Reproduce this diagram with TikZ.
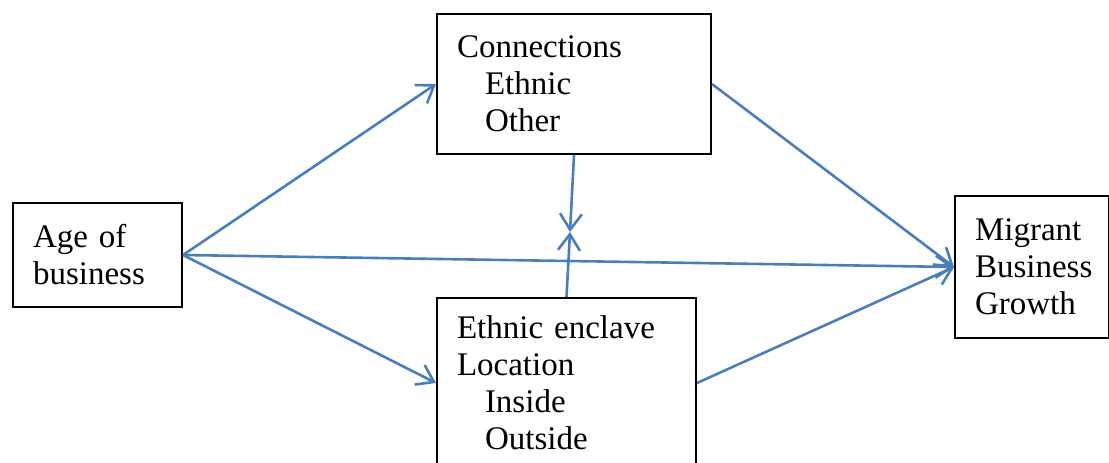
\documentclass[tikz,border=0pt]{standalone}
\usepackage{fontspec}
\setmainfont{Liberation Serif}
\usetikzlibrary{arrows.meta,positioning}
\definecolor{azulFlecha}{HTML}{4A7EBB}
\definecolor{negroCaja}{HTML}{000000}

\begin{document}
\begin{tikzpicture}[x=0.5pt, y=-0.5pt,
    caja/.style={rectangle, draw=negroCaja, line width=1pt, anchor=north west,
                 inner xsep=10pt, inner ysep=0pt, align=left,
                 font=\fontsize{16.5}{18.5}\selectfont},
    flecha/.style={line width=1.3pt, draw=azulFlecha,
                   -{Straight Barb[length=8pt, width=11pt, line width=1.3pt]}}
  ]
  \useasboundingbox (0,0) rectangle (1109,462);

  \node[caja, text width=64.5pt, minimum height=52pt] (edad) at (12,202)
    {Age of\\ business};
  \node[caja, text width=117pt, minimum height=70pt] (conex) at (436,13)
    {Connections\\ \hspace*{14pt}Ethnic\\ \hspace*{14pt}Other};
  \node[caja, text width=109.5pt, minimum height=85pt] (encl) at (436,297)
    {Ethnic enclave\\ Location\\ \hspace*{14pt}Inside\\ \hspace*{14pt}Outside};
  \node[caja, text width=57pt, minimum height=71pt] (crec) at (954,195)
    {Migrant\\ Business\\ Growth};

  \coordinate (cruce) at (570,232);

  \draw[flecha] (edad.east) -- (conex.west);
  \draw[flecha] (edad.east) -- (encl.west);
  \draw[flecha] (edad.east) -- (crec.west);
  \draw[flecha] (conex.east) -- (crec.west);
  \draw[flecha] (encl.east) -- (crec.west);
  \draw[flecha] (conex.south) -- (cruce);
  \draw[flecha] (encl.north) -- (cruce);
\end{tikzpicture}
\end{document}
